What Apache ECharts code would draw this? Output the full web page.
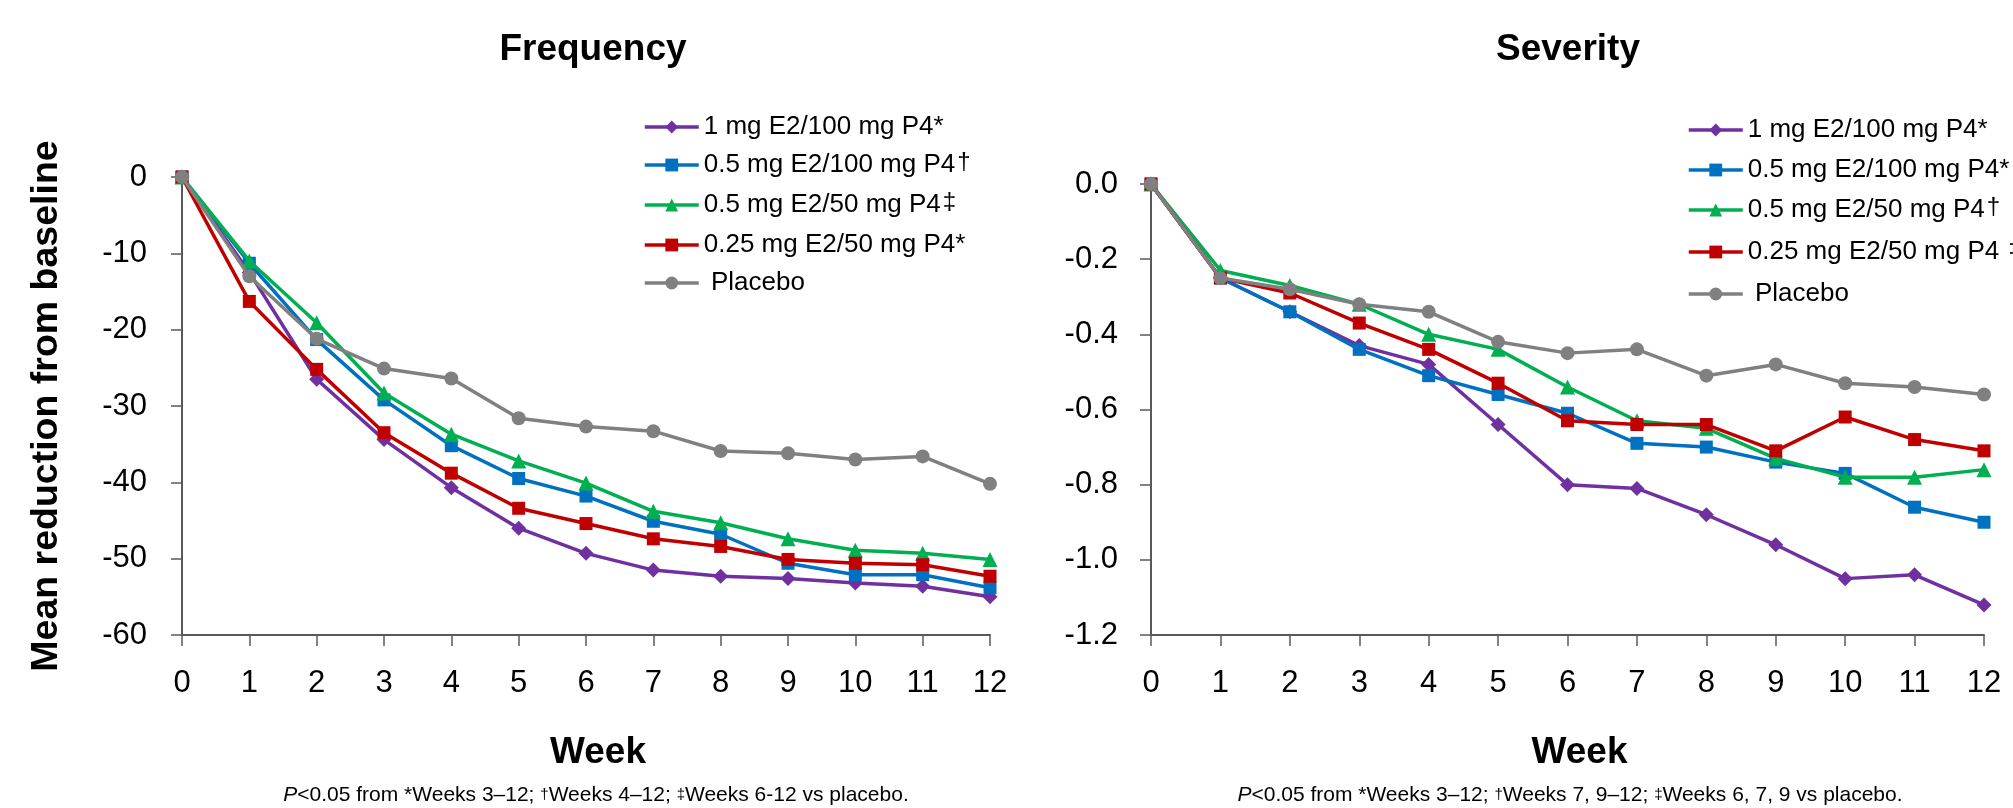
<!DOCTYPE html>
<html>
<head>
<meta charset="utf-8">
<script src="https://cdn.jsdelivr.net/npm/echarts@6/dist/echarts.min.js"></script>
<style>
html,body{margin:0;padding:0;background:#fff;}
#chart{width:2013px;height:808px;}
</style>
</head>
<body>
<div id="chart"></div>
<script>
// ---- data ----
const weeks = [0,1,2,3,4,5,6,7,8,9,10,11,12];

const freqNames = ['1 mg E2/100 mg P4*','0.5 mg E2/100 mg P4†','0.5 mg E2/50 mg P4‡','0.25 mg E2/50 mg P4*','Placebo'];
const sevNames  = ['1 mg E2/100 mg P4*','0.5 mg E2/100 mg P4*','0.5 mg E2/50 mg P4†','0.25 mg E2/50 mg P4 ‡','Placebo'];

const freq1mg100  = [0,-12.5,-26.5,-34.4,-40.7,-46.0,-49.3,-51.5,-52.3,-52.6,-53.2,-53.6,-55.0];
const freq05mg100 = [0,-11.3,-21.3,-29.2,-35.2,-39.5,-41.8,-45.1,-46.8,-50.6,-52.1,-52.1,-53.8];
const freq05mg50  = [0,-11.0,-19.1,-28.3,-33.7,-37.2,-40.1,-43.8,-45.3,-47.4,-48.9,-49.3,-50.1];
const freq025mg50 = [0,-16.3,-25.2,-33.5,-38.8,-43.4,-45.4,-47.4,-48.4,-50.1,-50.6,-50.8,-52.3];
const freqPlacebo = [0,-13.0,-21.2,-25.1,-26.4,-31.6,-32.7,-33.3,-35.9,-36.2,-37.0,-36.6,-40.2];

const sev1mg100   = [0,-0.25,-0.34,-0.43,-0.48,-0.64,-0.80,-0.81,-0.88,-0.96,-1.05,-1.04,-1.12];
const sev05mg100  = [0,-0.25,-0.34,-0.44,-0.51,-0.56,-0.61,-0.69,-0.70,-0.74,-0.77,-0.86,-0.90];
const sev05mg50   = [0,-0.23,-0.27,-0.32,-0.40,-0.44,-0.54,-0.63,-0.65,-0.73,-0.78,-0.78,-0.76];
const sev025mg50  = [0,-0.25,-0.29,-0.37,-0.44,-0.53,-0.63,-0.64,-0.64,-0.71,-0.62,-0.68,-0.71];
const sevPlacebo  = [0,-0.25,-0.28,-0.32,-0.34,-0.42,-0.45,-0.44,-0.51,-0.48,-0.53,-0.54,-0.56];

const titles = ['Frequency','Severity'];
const xName = 'Week';
const yName = 'Mean reduction from baseline';
const footLeft  = '{i|P}<0.05 from *Weeks 3–12; {d|†}Weeks 4–12; {d|‡}Weeks 6-12 vs placebo.';
const footRight = '{i|P}<0.05 from *Weeks 3–12; {d|†}Weeks 7, 9–12; {d|‡}Weeks 6, 7, 9 vs placebo.';

// ---- styling ----
const FONT = '"Liberation Sans", Arial, sans-serif';
const colors  = ['#7030A0','#0070C0','#00B050','#C00000','#808080'];
const symbols = ['diamond','rect','triangle','rect','circle'];
const symSizes = [15,13,15,13,14];

const freqData = [freq1mg100,freq05mg100,freq05mg50,freq025mg50,freqPlacebo];
const sevData  = [sev1mg100,sev05mg100,sev05mg50,sev025mg50,sevPlacebo];

function pairs(arr){ return weeks.map((w,i)=>[w,arr[i]]); }

const series = [];
freqData.forEach((arr,i)=>{
  series.push({type:'line',name:freqNames[i],xAxisIndex:0,yAxisIndex:0,data:pairs(arr),
    symbol:symbols[i],symbolSize:symSizes[i],lineStyle:{width:3.5,color:colors[i]},
    itemStyle:{color:colors[i]},z:2+i,animation:false});
});
sevData.forEach((arr,i)=>{
  series.push({type:'line',name:sevNames[i],xAxisIndex:1,yAxisIndex:1,data:pairs(arr),
    symbol:symbols[i],symbolSize:symSizes[i],lineStyle:{width:3.5,color:colors[i]},
    itemStyle:{color:colors[i]},z:2+i,animation:false});
});

const axisLine = {show:true,onZero:false,lineStyle:{color:'#595959',width:2}};
const axisTick = {show:true,inside:false,length:11,lineStyle:{color:'#595959',width:1.5}};
const labelStyle = {fontFamily:FONT,fontSize:31,color:'#000'};

function xAxis(gi){
  return {type:'value',gridIndex:gi,min:0,max:12,interval:1,
    axisLine:axisLine,axisTick:axisTick,splitLine:{show:false},
    axisLabel:Object.assign({margin:33},labelStyle),
    name:xName,nameLocation:'middle',nameGap:118,
    nameTextStyle:{fontFamily:FONT,fontSize:37,fontWeight:'bold',color:'#000',verticalAlign:'middle',padding:[0,0,0,24]}};
}
function legendFmt(name){
  if(name==='Placebo') return ' Placebo';
  return name.replace(/([†‡])/g,'{s|$1}');
}
function legend(left,top,gap,names){
  return {orient:'vertical',left:left,top:top,itemWidth:54,itemHeight:16,itemGap:gap,
    data:names,formatter:legendFmt,selectedMode:false,
    lineStyle:{width:3.5},
    textStyle:{fontFamily:FONT,fontSize:26,color:'#000',lineHeight:30,
      rich:{s:{fontFamily:FONT,fontSize:24,verticalAlign:'top',lineHeight:20,padding:[0,0,8,2],color:'#000'}}}};
}

const option = {
  animation:false,
  backgroundColor:'#fff',
  grid:[
    {left:182,top:177,width:808,height:458},
    {left:1151,top:184,width:833,height:451}
  ],
  xAxis:[xAxis(0),xAxis(1)],
  yAxis:[
    {type:'value',gridIndex:0,min:-60,max:0,interval:10,
      axisLine:axisLine,axisTick:axisTick,splitLine:{show:false},
      axisLabel:Object.assign({margin:35},labelStyle),
      name:yName,nameLocation:'middle',nameRotate:90,nameGap:135,
      nameTextStyle:{fontFamily:FONT,fontSize:37.5,fontWeight:'bold',color:'#000',verticalAlign:'middle',align:'center'}},
    {type:'value',gridIndex:1,min:-1.2,max:0,interval:0.2,
      axisLine:axisLine,axisTick:axisTick,splitLine:{show:false},
      axisLabel:Object.assign({margin:33,formatter:v=>v.toFixed(1)},labelStyle)}
  ],
  legend:[
    legend(638,107,8,freqNames),
    legend(1682,110,10,sevNames)
  ],
  graphic:[
    {type:'text',x:593,y:50,style:{text:titles[0],fontFamily:FONT,fontSize:37,fontWeight:'bold',fill:'#000',align:'center',verticalAlign:'middle'}},
    {type:'text',x:1568,y:50,style:{text:titles[1],fontFamily:FONT,fontSize:37,fontWeight:'bold',fill:'#000',align:'center',verticalAlign:'middle'}},
    {type:'text',x:596,y:795,style:{text:footLeft,fontFamily:FONT,fontSize:21,fill:'#000',align:'center',verticalAlign:'middle',
      rich:{i:{fontFamily:FONT,fontSize:21,fontStyle:'italic'},d:{fontFamily:FONT,fontSize:15}}}},
    {type:'text',x:1570,y:795,style:{text:footRight,fontFamily:FONT,fontSize:21,fill:'#000',align:'center',verticalAlign:'middle',
      rich:{i:{fontFamily:FONT,fontSize:21,fontStyle:'italic'},d:{fontFamily:FONT,fontSize:15}}}}
  ],
  series:series
};

const chart = echarts.init(document.getElementById('chart'),null,{renderer:'canvas'});
chart.setOption(option);
</script>
</body>
</html>
